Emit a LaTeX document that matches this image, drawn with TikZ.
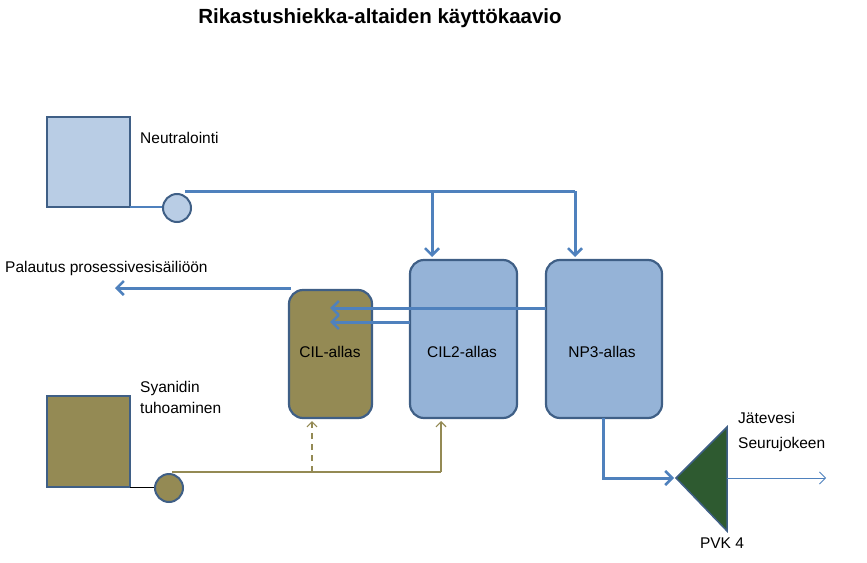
\documentclass[tikz,border=0pt]{standalone}
\usepackage{fontspec}
\setmainfont{Liberation Sans}
\usetikzlibrary{arrows.meta}
\definecolor{lblue}{HTML}{B9CDE5}
\definecolor{mblue}{HTML}{95B3D7}
\definecolor{olive}{HTML}{948A54}
\definecolor{edge}{HTML}{3F5F86}
\definecolor{flow}{HTML}{4F81BD}
\definecolor{oline}{HTML}{948A54}
\definecolor{dgreen}{HTML}{2E5A30}
\begin{document}
\begin{tikzpicture}[x=1pt,y=-1pt,
  lbl/.style={font=\fontsize{15.5}{21}\selectfont,inner sep=0pt},
  tank/.style={draw=edge,line width=2.2pt,rounded corners=14pt},
  sq/.style={draw=edge,line width=2pt},
  pipe/.style={draw=flow,line width=3pt,-{Straight Barb[length=7pt,width=14pt,line width=2.5pt]}},
  pline/.style={draw=flow,line width=3pt},
  oflow/.style={draw=oline,line width=1.5pt,-{Straight Barb[length=5pt,width=10pt,line width=1.2pt]}}]
\useasboundingbox (0,0) rectangle (867,562);
\node[font=\bfseries\fontsize{20.5}{24}\selectfont] (title) at (380,18) {Rikastushiekka-altaiden käyttökaavio};
% boxes
\path[sq,fill=lblue] (47,117) rectangle (130,207);
\node[lbl,anchor=west] (neu) at (140,138) {Neutralointi};
\path[sq,fill=olive] (47,396) rectangle (130,487);
\node[lbl,anchor=north west,align=left] (sya) at (140,381) {Syanidin\\tuhoaminen};
\coordinate (nb) at (130,207);
\coordinate (sb) at (130,487);
% tanks
\path[tank,fill=olive] (289,290) rectangle (372,418);
\path[tank,fill=mblue] (410,260) rectangle (517,418);
\path[tank,fill=mblue] (546,260) rectangle (662,418);
\node[lbl] (cil) at (330,352) {CIL-allas};
\node[lbl] (cil2) at (462,352) {CIL2-allas};
\node[lbl] (np3) at (602,352) {NP3-allas};
% pumps
\draw[flow,line width=2pt] (nb) -- (177,207);
\node[circle,draw=edge,line width=2pt,fill=lblue,minimum size=28pt,inner sep=0pt] (p1) at (177,208) {};
\draw[black,line width=0.7pt] (sb) -- (169,487);
\node[circle,draw=edge,line width=2pt,fill=olive,minimum size=28pt,inner sep=0pt] (p2) at (169,488) {};
% blue pipes
\draw[pline] (185,191) -- (575,191);
\draw[pipe] (432,191) -- (432,257);
\draw[pipe] (575,191) -- (575,257);
\draw[pipe] (546,308) -- (330,308);
\draw[pipe] (410,322) -- (330,322);
\draw[pipe] (291,288) -- (115,288);
\node[lbl,anchor=west] (pal) at (5,268) {Palautus prosessivesisäiliöön};
% olive
\draw[oline,line width=1.5pt] (172,472) -- (441,472);
\draw[oflow] (441,472) -- (441,421);
\draw[oflow,dashed,dash pattern=on 6pt off 5pt] (312,472) -- (312,421);
% outlet
\draw[pipe] (603,418) -- (603,478) -- (674,478);
\path[draw=edge,line width=1.5pt,fill=dgreen] (676,478) -- (727,427) -- (727,531) -- cycle;
\coordinate (tip) at (727,478);
\coordinate (out) at (826,478);
\draw[flow,line width=0.8pt,-{Straight Barb[length=6pt,width=12pt]}] (tip) -- (out);
\node[lbl,anchor=north west,align=left,font=\fontsize{15.5}{25}\selectfont] (jat) at (738,412) {Jätevesi\\Seurujokeen};
\node[lbl] (pvk) at (722,543) {PVK 4};
\end{tikzpicture}
\end{document}
